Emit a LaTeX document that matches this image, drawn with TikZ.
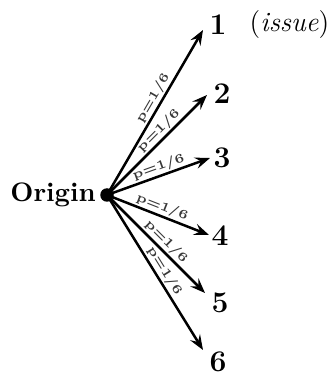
\documentclass[tikz,border=0pt]{standalone}
\usetikzlibrary{arrows.meta}
\begin{document}
\begin{tikzpicture}[x=0.4pt,y=-0.4pt,
  edge/.style={line width=1pt,-{Stealth[length=6pt,width=4.6pt,inset=2.2pt]}},
  prob/.style={sloped,above,inner sep=0.5pt,text=black!78,font=\fontsize{5.1}{6}\selectfont\bfseries},
  num/.style={font=\fontsize{12}{14}\selectfont\bfseries,inner sep=0pt}]
\useasboundingbox (0,0) rectangle (332,378);
\node[circle,fill=black,inner sep=0pt,minimum size=5.4pt] (O) at (107,195) {};
\node[font=\fontsize{10.7}{13}\selectfont\bfseries,left,inner sep=1.4pt] (orig) at (O.west) {Origin};
\coordinate (t1) at (203,30);
\coordinate (t2) at (207,95);
\coordinate (t3) at (210,158);
\coordinate (t4) at (209,235);
\coordinate (t5) at (205,293);
\coordinate (t6) at (203,350);
\node[num] (n1) at (218,25) {1};
\node[inner sep=0pt,font=\fontsize{11.2}{13}\selectfont] (issue) at (289.5,25) {(\textit{issue})};
\node[num] (n2) at (222,94) {2};
\node[num] (n3) at (222,158) {3};
\node[num] (n4) at (220,236) {4};
\node[num] (n5) at (220,303) {5};
\node[num] (n6) at (218,362) {6};
\draw[edge] (O.center) -- node[prob,pos=0.56] {p=1/6} (t1);
\draw[edge] (O.center) -- node[prob,pos=0.58] {p=1/6} (t2);
\draw[edge] (O.center) -- node[prob,pos=0.53] {p=1/6} (t3);
\draw[edge] (O.center) -- node[prob,pos=0.51] {p=1/6} (t4);
\draw[edge] (O.center) -- node[prob,pos=0.54] {p=1/6} (t5);
\draw[edge] (O.center) -- node[prob,pos=0.52] {p=1/6} (t6);
\end{tikzpicture}
\end{document}
